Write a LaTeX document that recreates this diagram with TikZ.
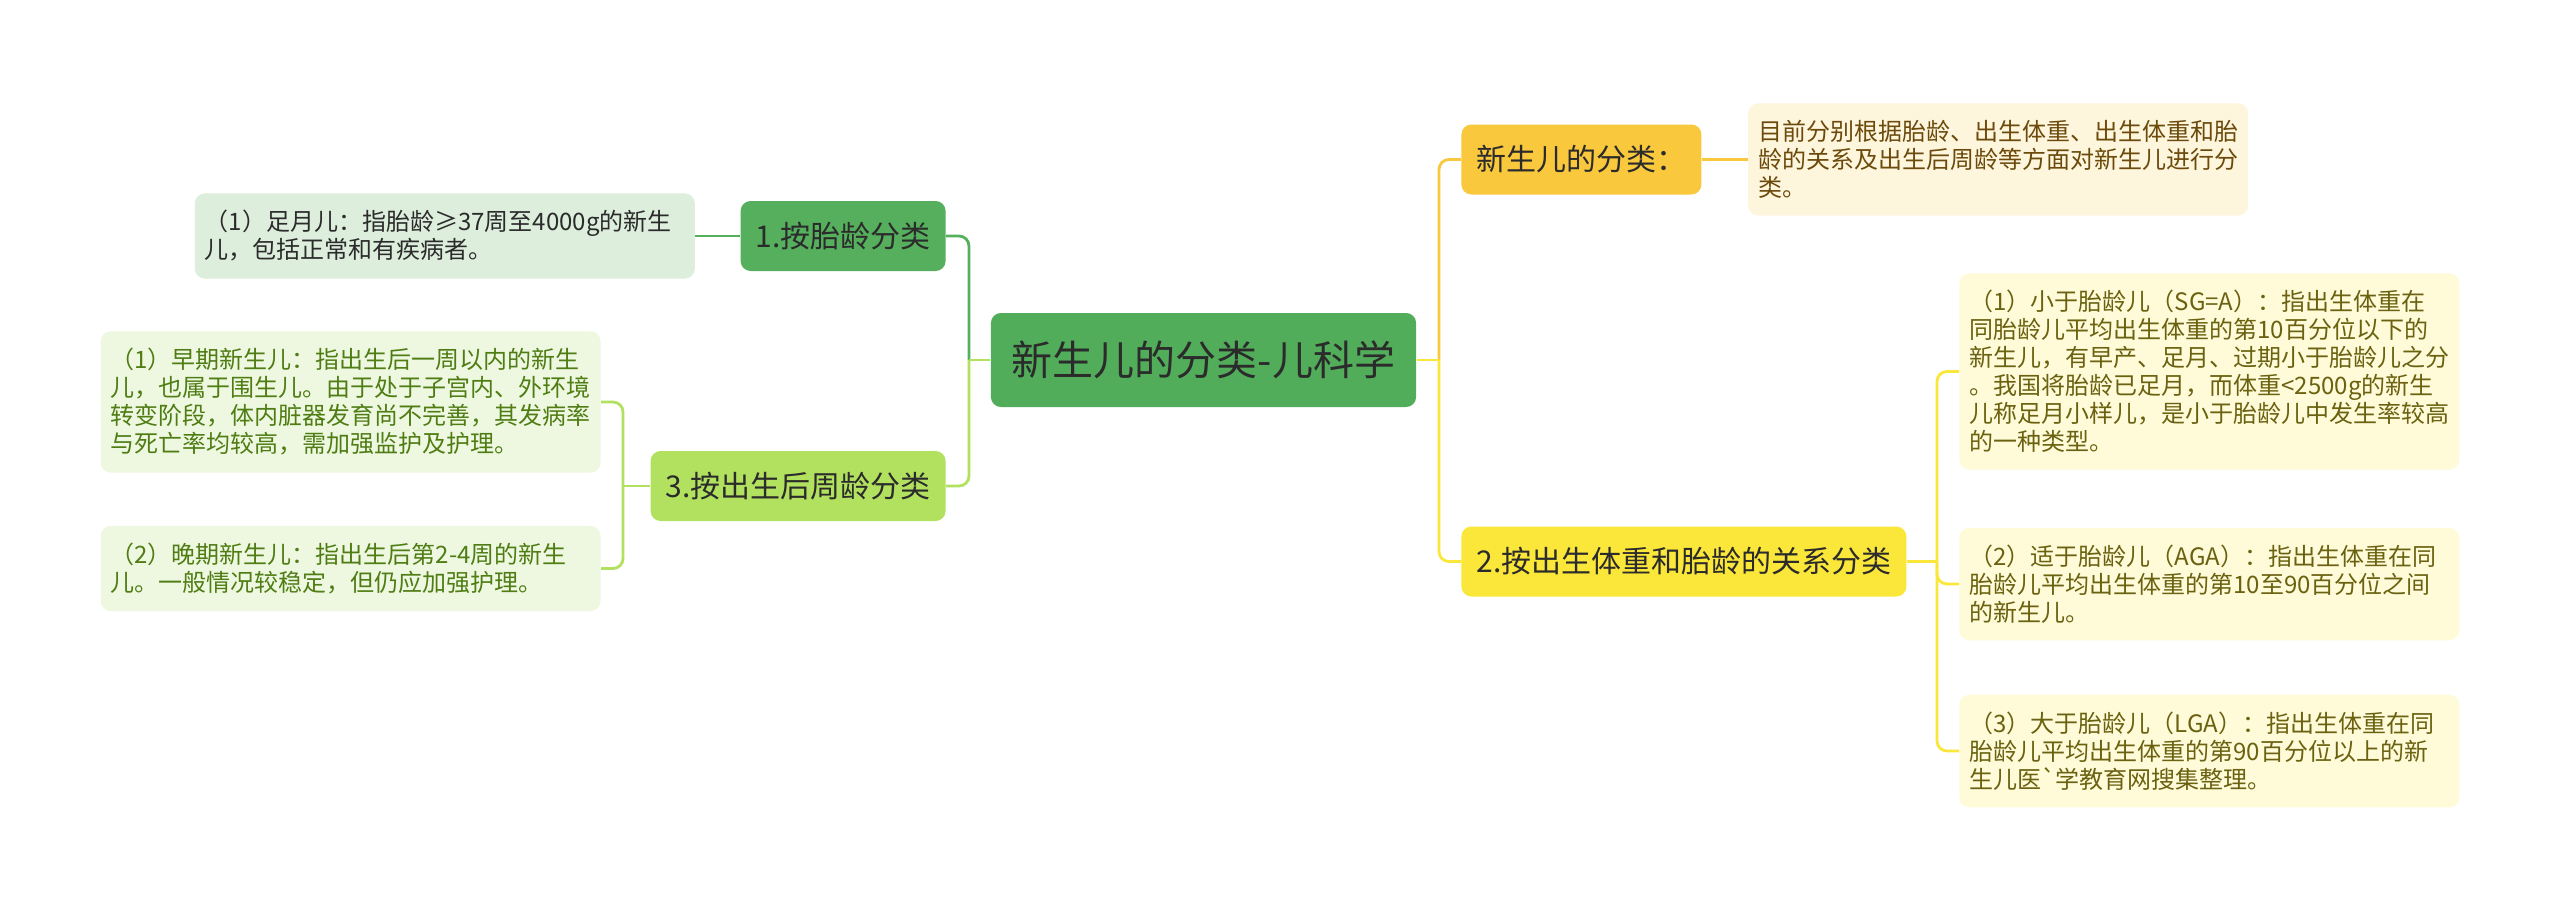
\documentclass[tikz,border=0pt]{standalone}
\usepackage{fontspec}
\setmainfont{Noto Sans CJK SC}
\usepackage{xcolor}
\usetikzlibrary{positioning}

\definecolor{rootfill}{HTML}{52AD5B}
\definecolor{onefill}{HTML}{55AF5D}
\definecolor{oneleaf}{HTML}{DDEEDD}
\definecolor{threefill}{HTML}{B2E15F}
\definecolor{threeleaf}{HTML}{EEF8E0}
\definecolor{threetext}{HTML}{4F7D14}
\definecolor{topfill}{HTML}{F9C83D}
\definecolor{topleaf}{HTML}{FEF5DD}
\definecolor{toptext}{HTML}{6B4A0B}
\definecolor{twofill}{HTML}{FBE63A}
\definecolor{twoleaf}{HTML}{FFFAD8}
\definecolor{twotext}{HTML}{6A6210}
\definecolor{darktext}{HTML}{2B2B2B}

\begin{document}
\begin{tikzpicture}[x=0.5pt,y=-0.5pt,
    topic/.style={rounded corners=5pt, inner xsep=7.5pt, inner ysep=0pt, minimum height=35pt,
      font=\fontsize{15}{18}\selectfont, text=darktext},
    leaf/.style={rounded corners=5pt, text width=240pt, inner xsep=5pt, inner ysep=8.5pt,
      align=left, font=\fontsize{12}{14}\selectfont},
    link/.style={line width=1.4pt, rounded corners=5pt}]
    \useasboundingbox (0,0) rectangle (2560,911);

    \node[topic, fill=rootfill, minimum height=47pt, inner xsep=10.5pt,
      font=\fontsize{20.5}{24}\selectfont] (root) at (1203.5,360) {新生儿的分类-儿科学};

    \node[topic, fill=onefill, anchor=east] (one) at (946,236) {1.按胎龄分类};
    \node[topic, fill=threefill, anchor=east] (three) at (946,486) {3.按出生后周龄分类};
    \node[topic, fill=topfill, anchor=west] (intro) at (1461,159.5) {新生儿的分类：};
    \node[topic, fill=twofill, anchor=west] (two) at (1461,561.5) {2.按出生体重和胎龄的关系分类};

    \node[leaf, fill=oneleaf, text=darktext, left=22.5pt of one] (full)
      {（1）足月儿：指胎龄≥37周至4000g的新生\\儿，包括正常和有疾病者。};
    \node[leaf, fill=threeleaf, text=threetext, anchor=east] (early) at (601,402)
      {（1）早期新生儿：指出生后一周以内的新生\\儿，也属于围生儿。由于处于子宫内、外环境\\转变阶段，体内脏器发育尚不完善，其发病率\\与死亡率均较高，需加强监护及护理。};
    \node[leaf, fill=threeleaf, text=threetext, anchor=east] (late) at (601,568.5)
      {（2）晚期新生儿：指出生后第2-4周的新生\\儿。一般情况较稳定，但仍应加强护理。};
    \node[leaf, fill=topleaf, text=toptext, right=23pt of intro] (basis)
      {目前分别根据胎龄、出生体重、出生体重和胎\\龄的关系及出生后周龄等方面对新生儿进行分\\类。};
    \node[leaf, fill=twoleaf, text=twotext, anchor=west] (sga) at (1959,371.5)
      {（1）小于胎龄儿（SG=A）：指出生体重在\\同胎龄儿平均出生体重的第10百分位以下的\\新生儿，有早产、足月、过期小于胎龄儿之分\\。我国将胎龄已足月，而体重<2500g的新生\\儿称足月小样儿，是小于胎龄儿中发生率较高\\的一种类型。};
    \node[leaf, fill=twoleaf, text=twotext, anchor=west] (aga) at (1959,584)
      {（2）适于胎龄儿（AGA）：指出生体重在同\\胎龄儿平均出生体重的第10至90百分位之间\\的新生儿。};
    \node[leaf, fill=twoleaf, text=twotext, anchor=west] (lga) at (1959,751)
      {（3）大于胎龄儿（LGA）：指出生体重在同\\胎龄儿平均出生体重的第90百分位以上的新\\生儿医\textasciigrave 学教育网搜集整理。};

    \coordinate (lfork) at (969,360);
    \coordinate (rfork) at (1439,360);
    \coordinate (threefork) at (623,486);
    \coordinate (twofork) at (1937,561.5);

    \draw[link, onefill] (lfork) |- (one.east);
    \draw[link, threefill] (lfork) |- (three.east);
    \draw[link, threefill] (root.west) -- (lfork);
    \draw[link, topfill] (rfork) |- (intro.west);
    \draw[link, twofill] (rfork) |- (two.west);
    \draw[link, twofill] (root.east) -- (rfork);

    \draw[link, onefill] (one.west) -- (full.east);
    \draw[link, threefill] (three.west) -- (threefork);
    \draw[link, threefill] (threefork) |- (early.east);
    \draw[link, threefill] (threefork) |- (late.east);
    \draw[link, topfill] (intro.east) -- (basis.west);
    \draw[link, twofill] (two.east) -- (twofork);
    \draw[link, twofill] (twofork) |- (sga.west);
    \draw[link, twofill] (twofork) |- (aga.west);
    \draw[link, twofill] (twofork) |- (lga.west);
\end{tikzpicture}
\end{document}
